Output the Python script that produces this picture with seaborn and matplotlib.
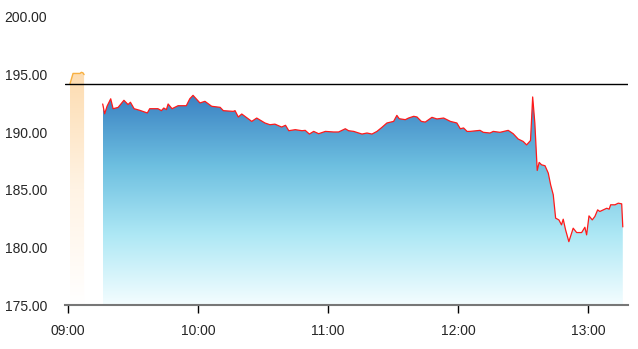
import numpy as np
import pandas as pd
import matplotlib
matplotlib.use("Agg")
import matplotlib.pyplot as plt
from matplotlib.colors import LinearSegmentedColormap
import seaborn as sns

# ---- data (minutes after 09:00, price) ----
pre_minutes = [0.9, 2.3, 5.5, 6.2, 6.9, 7.4]
pre_price = [194.2, 195.1, 195.1, 195.2, 195.15, 195.0]

minutes = [16.0, 16.9, 18.0, 19.7, 20.8, 23.1, 25.8, 27.7, 28.8, 30.5, 33.1, 36.6, 37.7,
           41.5, 43.1, 44.2, 45.4, 46.2, 48.0, 50.8, 54.6, 56.2, 57.7, 60.9, 63.2, 66.3,
           70.2, 71.7, 76.3, 77.1, 78.6, 80.2, 84.8, 87.1, 90.9, 93.2, 95.5, 98.6, 100.4,
           101.9, 104.9, 108.0, 109.5, 111.4, 113.4, 115.7, 118.8, 122.6, 124.9, 128.0,
           129.5, 131.9, 134.2, 135.7, 138.0, 140.3, 142.6, 144.9, 147.2, 150.3, 151.8,
           152.9, 155.7, 157.2, 159.6, 161.1, 163.1, 164.9, 168.0, 170.3, 173.4, 176.5,
           179.5, 181.1, 182.6, 184.2, 185.5, 190.2, 191.7, 194.8, 196.3, 199.4, 203.2,
           205.5, 207.8, 210.1, 211.7, 213.5, 214.5, 215.5, 216.6, 217.5, 218.6, 220.2,
           221.7, 222.8, 224.0, 225.1, 226.6, 227.8, 228.6, 229.7, 231.2, 233.2, 234.8,
           237.1, 238.6, 239.4, 240.5, 242.0, 243.2, 244.5, 245.5, 247.1, 248.7, 249.8,
           250.5, 252.5, 254.0, 255.6, 256.1]
price = [192.45, 191.6, 192.25, 192.9, 192.04, 192.15, 192.77, 192.4, 192.6, 192.04, 191.9,
         191.67, 192.04, 192.04, 191.87, 192.1, 191.96, 192.45, 192.04, 192.3, 192.3, 192.9,
         193.2, 192.54, 192.68, 192.25, 192.16, 191.87, 191.81, 191.87, 191.32, 191.58,
         190.94, 191.23, 190.8, 190.65, 190.7, 190.45, 190.6, 190.13, 190.22, 190.13,
         190.16, 189.84, 190.07, 189.87, 190.07, 190.02, 190.02, 190.3, 190.13, 190.07,
         189.93, 189.84, 189.93, 189.84, 190.07, 190.42, 190.8, 190.94, 191.46, 191.17,
         191.09, 191.23, 191.38, 191.32, 190.94, 190.88, 191.29, 191.15, 191.23, 190.94,
         190.8, 190.3, 190.37, 190.07, 190.07, 190.16, 189.99, 189.93, 190.07, 189.99,
         190.16, 189.87, 189.41, 189.2, 188.9, 189.28, 193.06, 190.8, 186.68, 187.38,
         187.17, 187.09, 186.45, 185.43, 184.57, 182.54, 182.39, 181.96, 182.45, 181.52,
         180.5, 181.67, 181.29, 181.29, 181.75, 181.09, 182.74, 182.39, 182.68, 183.26,
         183.12, 183.26, 183.4, 183.32, 183.7, 183.7, 183.84, 183.78, 181.78]

prev_close = 194.2
tick_minutes = [0, 60, 120, 180, 240]
tick_labels = ["09:00", "10:00", "11:00", "12:00", "13:00"]
y_ticks = [175, 180, 185, 190, 195, 200]

pre_df = pd.DataFrame({"t": pre_minutes, "p": pre_price})
df = pd.DataFrame({"t": minutes, "p": price})

sns.set_style("white")
plt.rcParams["font.family"] = ["Liberation Sans", "DejaVu Sans"]

fig = plt.figure(figsize=(6.38, 3.49), dpi=100)
ax = fig.add_axes([0.1019, 0.126, 0.9843 - 0.1019, 0.9513 - 0.126])
ymin, ymax = 175, 200
xmin, xmax = -1.4, 258.5


def gradient_fill(ax, x, y, colors, top):
    poly = ax.fill_between(x, y, ymin, color="none", lw=0)
    cmap = LinearSegmentedColormap.from_list("g", colors)
    grad = np.linspace(1, 0, 256).reshape(-1, 1)
    im = ax.imshow(grad, cmap=cmap, aspect="auto",
                   extent=[min(x), max(x), ymin, top], origin="upper", zorder=1)
    path = poly.get_paths()[0]
    im.set_clip_path(path, transform=ax.transData)


gradient_fill(ax, pre_df["t"].values, pre_df["p"].values,
              ["#ffffff", "#fff3e4", "#fddcb0"], max(pre_price))
gradient_fill(ax, df["t"].values, df["p"].values,
              ["#f4fdff", "#aee8f5", "#6dbfe0", "#3b82c3"], max(price))

sns.lineplot(data=pre_df, x="t", y="p", ax=ax, color="#f7b041", lw=1, zorder=3)
sns.lineplot(data=df, x="t", y="p", ax=ax, color="#ff1a1a", lw=0.9, zorder=3)
ax.axhline(prev_close, color="black", lw=1, zorder=4)

ax.set_xlim(xmin, xmax)
ax.set_ylim(ymin, ymax)
ax.set_xticks(tick_minutes)
ax.set_xticklabels(tick_labels)
ax.set_yticks(y_ticks)
ax.set_yticklabels([f"{v:.2f}" for v in y_ticks])
ax.set_xlabel("")
ax.set_ylabel("")
for s in ["top", "right", "left"]:
    ax.spines[s].set_visible(False)
ax.spines["bottom"].set_color("#777777")
ax.spines["bottom"].set_linewidth(1.5)
ax.tick_params(axis="x", direction="out", length=6, width=1, color="black",
               labelsize=10, pad=8, bottom=True)
ax.tick_params(axis="y", length=0, labelsize=10, pad=13)
ax.grid(False)

fig.savefig("out.png", dpi=100)
